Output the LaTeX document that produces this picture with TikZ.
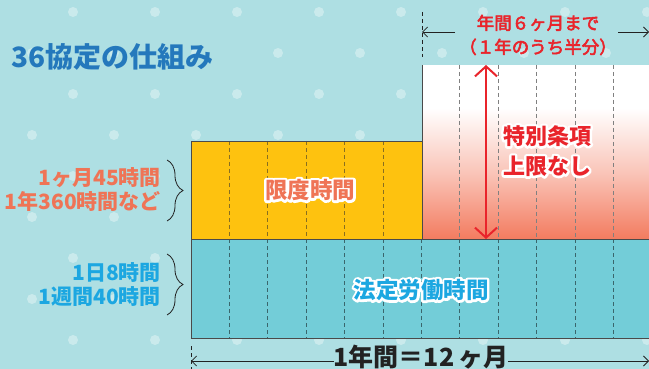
\documentclass[tikz,border=0pt]{standalone}
\usepackage{fontspec}
\setmainfont{Noto Sans CJK JP}
\newcommand\outl[1]{\leavevmode\rlap{\special{pdf:literal 1 Tr 4.8 w 1 1 1 RG 1 j}#1\special{pdf:literal 0 Tr}}#1}
\newcommand\thk[1]{\leavevmode\special{pdf:literal 2 Tr 0.55 w 1 j}#1\special{pdf:literal 0 Tr}}
\usetikzlibrary{arrows.meta,decorations.pathreplacing}
\definecolor{bgc}{HTML}{AEDFE3}
\definecolor{yel}{HTML}{FEC20F}
\definecolor{tealc}{HTML}{73CDD8}
\definecolor{salm}{HTML}{F37B5F}
\definecolor{redc}{HTML}{E9242B}
\definecolor{salmtxt}{HTML}{EF7456}
\definecolor{lblue}{HTML}{1CA7E1}
\definecolor{tblue}{HTML}{2478BC}
\definecolor{bordc}{HTML}{4A4A4A}
\definecolor{darktxt}{HTML}{222222}
\tikzset{
  bord/.style={draw=bordc,line width=0.9pt},
  dyel/.style={draw=black!45!yel!80!gray,dash pattern=on 4pt off 3pt,line width=0.8pt},
  dteal/.style={draw=tealc!50!black,dash pattern=on 4pt off 3pt,line width=0.8pt},
  dpink/.style={draw=gray,dash pattern=on 4pt off 3pt,line width=0.8pt},
  dtick/.style={draw=darktxt,dash pattern=on 4pt off 3pt,line width=0.8pt},
  conn/.style={draw=darktxt,line width=0.8pt,-{Straight Barb[length=5pt,width=10pt,line width=0.8pt]}},
  redarrow/.style={draw=redc,line width=2pt,{Straight Barb[length=10pt,width=22pt,line width=2pt]}-{Straight Barb[length=10pt,width=22pt,line width=2pt]}},
  bracestyle/.style={draw=darktxt,line width=0.8pt,decorate,decoration={brace,amplitude=16pt,aspect=0.5}},
  boxtxt/.style={font=\bfseries\fontsize{22.5}{27}\selectfont,inner sep=0pt,align=center},
  sidelbl/.style={font=\bfseries\fontsize{21}{24}\selectfont,inner sep=0pt,align=right,anchor=east},
}
\begin{document}
\begin{tikzpicture}[x=1pt,y=-1pt]
\useasboundingbox (0,0) rectangle (649,369);
\fill[bgc] (0,0) rectangle (649,369);
% dots
\foreach \j in {0,...,9} {
  \pgfmathsetmacro\xo{mod(\j,2)==0 ? 73 : 32}
  \foreach \k in {-1,...,8}
    \fill[white,opacity=.35] (\xo+82*\k, 12+41*\j) circle (5pt);
}
% boxes
\fill[yel] (191,141) rectangle (422,239);
\fill[tealc] (191,239) rectangle (662,338);
\fill[white] (422,65) rectangle (662,108);
\shade[top color=white,bottom color=salm,middle color=salm!45!white] (422,108) rectangle (662,239.5);
\foreach \i in {1,...,5} \draw[dyel] (191+38.4*\i,141) -- (191+38.4*\i,239);
\foreach \i in {1,...,11} \draw[dteal] (191+38.4*\i,239) -- (191+38.4*\i,338);
\foreach \i in {7,...,11} \draw[dpink] (191+38.4*\i,65) -- (191+38.4*\i,239);
\draw[bord] (191,141) rectangle (422,239);
\draw[bord] (191,239) rectangle (662,338);
\draw[bord] (422,65) -- (422,239);
% title
\node[anchor=west,inner sep=0pt,text=tblue,font=\bfseries\fontsize{28}{30}\selectfont] (title) at (11.5,57) {36協定の仕組み};
% box texts
\node[boxtxt,text=salmtxt] (gendo) at (310,190) {\outl{限度時間}};
\node[boxtxt,text=lblue] (hotei) at (421,290) {\outl{法定労働時間}};
\node[boxtxt,text=redc,font=\bfseries\fontsize{22}{30}\selectfont] (tokube) at (547,151) {\outl{特別条項}\\\outl{上限なし}};
% red arrow
\coordinate (ra) at (486,65);
\coordinate (rb) at (486,239);
\draw[redarrow] (ra) -- (rb);
% side labels
\node[sidelbl,text=salmtxt] (lbl1) at (161,190) {1ヶ月45時間\\1年360時間など};
\node[sidelbl,text=lblue] (lbl2) at (161,285) {1日8時間\\1週間40時間};
\coordinate (b1a) at (167,160); \coordinate (b1b) at (167,221);
\coordinate (b2a) at (167,254); \coordinate (b2b) at (167,315);
\draw[bracestyle] (b1a) -- (b1b);
\draw[bracestyle] (b2a) -- (b2b);
% top label
\node[inner sep=0pt,align=center,text=redc,font=\fontsize{17.5}{24}\selectfont] (half) at (538,35) {\thk{年間６ヶ月まで}\\\thk{（１年のうち半分）}};
\coordinate (t0a) at (422,12); \coordinate (t0b) at (422,57);
\draw[dtick] (t0a) -- (t0b);
\coordinate (tla) at (455,32); \coordinate (tlb) at (422,32);
\coordinate (tra) at (618,32); \coordinate (trb) at (649,32);
\draw[conn] (tla) -- (tlb);
\draw[conn] (tra) -- (trb);
% bottom label
\node[inner sep=0pt,text=darktxt,font=\bfseries\fontsize{25}{30}\selectfont] (year) at (421,357) {1年間＝12\,ヶ月};
\coordinate (y0a) at (191,346); \coordinate (y0b) at (191,369);
\draw[dtick] (y0a) -- (y0b);
\coordinate (yla) at (334,361); \coordinate (ylb) at (191,361);
\coordinate (yra) at (508,361); \coordinate (yrb) at (649,361);
\draw[conn] (yla) -- (ylb);
\draw[conn] (yra) -- (yrb);
\end{tikzpicture}
\end{document}
